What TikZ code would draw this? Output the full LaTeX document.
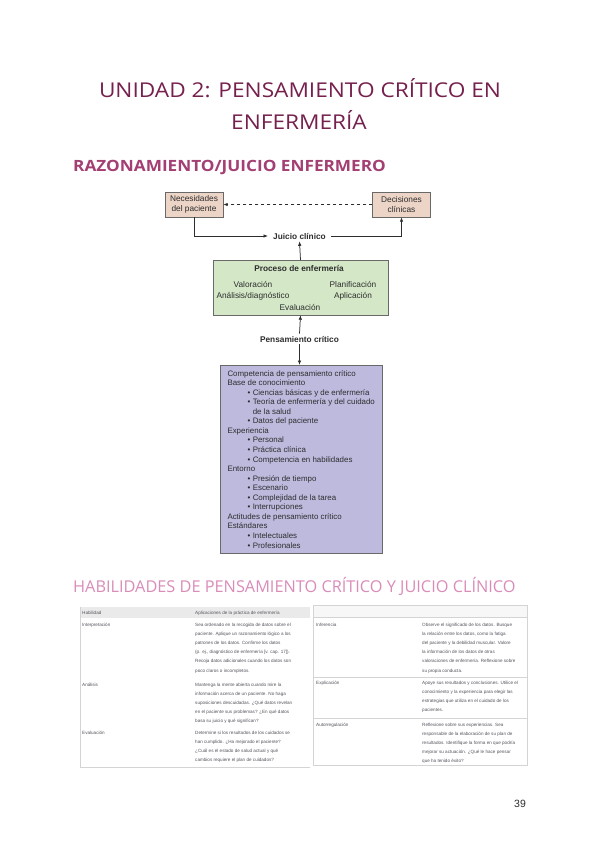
\documentclass[tikz,border=0pt]{standalone}
\usepackage{fontspec}
\setmainfont{Liberation Sans}
\newfontfamily\titlefont{Open Sans}
\newfontfamily\titlewide[FakeStretch=1.11]{Open Sans}
\usetikzlibrary{positioning,arrows.meta}

\definecolor{titlePlum}{RGB}{118,32,78}
\definecolor{headPink}{RGB}{163,63,115}
\definecolor{lightPink}{RGB}{218,140,185}
\definecolor{needFill}{RGB}{236,212,198}
\definecolor{procFill}{RGB}{212,232,200}
\definecolor{compFill}{RGB}{190,186,222}
\definecolor{boxLine}{RGB}{105,105,105}
\definecolor{inkGray}{RGB}{45,45,45}
\definecolor{cellInk}{RGB}{85,85,95}
\definecolor{tabHead}{RGB}{234,234,234}
\definecolor{tabStrip}{RGB}{247,247,247}
\definecolor{tabLine}{RGB}{212,212,212}

\newcommand{\diagfont}{\fontsize{8.3}{9.5}\selectfont}
\newcommand{\compfont}{\fontsize{7.9}{9.55}\selectfont}
\newcommand{\cellfont}{\fontsize{4.6}{9.2}\selectfont}
\newcommand{\compItem}{\hspace*{20pt}\textbullet\hspace{2.5pt}}
\newcommand{\compCont}{\hspace*{25.3pt}}

\begin{document}
\begin{tikzpicture}[x=1pt, y=-1pt,
    >={Latex[length=4.5pt,width=3.5pt]},
    titletext/.style={font=\titlewide\fontsize{20.4}{24}\selectfont, text=titlePlum, inner sep=0pt},
    needbox/.style={rectangle, draw=boxLine, fill=needFill, minimum width=58pt, minimum height=25pt,
        align=center, inner sep=1pt, font=\diagfont, text=inkGray},
    procbox/.style={rectangle, draw=boxLine, fill=procFill, minimum width=175pt, minimum height=55pt},
    compbox/.style={rectangle, draw=boxLine, fill=compFill, minimum width=162pt, minimum height=188pt,
        align=left, inner xsep=6pt, font=\compfont, text=inkGray},
    tag/.style={font=\diagfont\bfseries, text=inkGray, inner sep=2pt},
    phase/.style={font=\diagfont, text=inkGray, inner sep=0pt},
    link/.style={draw=inkGray, line width=0.75pt},
    cell/.style={anchor=north west, align=left, inner sep=0pt, font=\cellfont, text=cellInk}
]
\useasboundingbox (0,0) rectangle (600,848);
\fill[white] (0,0) rectangle (600,848);

% Titles
\node[titletext] (unitTitle) at (300,88) {UNIDAD 2: PENSAMIENTO CRÍTICO EN};
\node[titletext] (unitTitleB) at (299,120) {ENFERMERÍA};
\node[anchor=west, inner sep=0pt, text=headPink, font=\titlewide\bfseries\fontsize{15.5}{18}\selectfont]
    (reasonHead) at (73,167.5) {RAZONAMIENTO/JUICIO ENFERMERO};

% Judgement loop
\node[needbox] (needs) at (194,204.5) {Necesidades\\del paciente};
\node[needbox] (decis) at (401.5,204.5) {Decisiones\\clínicas};
\node[tag] (judge) at (299.5,236) {Juicio clínico};

\draw[link, ->, dashed] (decis.west) -- (needs.east);
\draw[link, ->] (needs.south) |- ([xshift=-3pt]judge.west);
\draw[link, ->] ([xshift=3pt]judge.east) -| (decis.south);

% Nursing process
\node[procbox] (proc) at (300.5,287.5) {};
\node[tag] (procTitle) at (299,268) {Proceso de enfermería};
\node[phase] (valor) at (253,284) {Valoración};
\node[phase] (analys) at (253,296) {Análisis/diagnóstico};
\node[phase] (plann) at (353,284) {Planificación};
\node[phase] (applic) at (353,296) {Aplicación};
\node[phase] (evalu) at (300,307) {Evaluación};

\draw[link, ->] (proc.north) -- (judge.south);

% Critical thinking
\node[tag] (thinking) at (299.5,339) {Pensamiento crítico};
\draw[link, ->] (thinking.north) -- (proc.south);

\node[compbox, anchor=north west] (comp) at (220,365) {%
    Competencia de pensamiento crítico\\
    Base de conocimiento\\
    \compItem Ciencias básicas y de enfermería\\
    \compItem Teoría de enfermería y del cuidado\\
    \compCont de la salud\\
    \compItem Datos del paciente\\
    Experiencia\\
    \compItem Personal\\
    \compItem Práctica clínica\\
    \compItem Competencia en habilidades\\
    Entorno\\
    \compItem Presión de tiempo\\
    \compItem Escenario\\
    \compItem Complejidad de la tarea\\
    \compItem Interrupciones\\
    Actitudes de pensamiento crítico\\
    Estándares\\
    \compItem Intelectuales\\
    \compItem Profesionales};
\draw[link, ->] (thinking.south) -- (thinking.south |- comp.north);

% Skills table
\node[anchor=west, inner sep=0pt, text=lightPink, font=\titlefont\fontsize{16.3}{19}\selectfont]
    (skillHead) at (73,586) {HABILIDADES DE PENSAMIENTO CRÍTICO Y JUICIO CLÍNICO};

\fill[tabHead] (80,607) rectangle (310,618);
\draw[tabLine] (80,607) -- (80,767) -- (310,767);
\fill[tabStrip] (313,605) rectangle (527,617);
\draw[tabLine] (313,605) rectangle (527,765);
\draw[tabLine] (313,617) -- (527,617);
\draw[tabLine] (313,677) -- (527,677);
\draw[tabLine] (313,718) -- (527,718);

\node[cell] (hSkill) at (82,610.5) {Habilidad};
\node[cell] (hUse) at (195,610.5) {Aplicaciones de la práctica de enfermería};

\node[cell] (sInterp) at (82,622.5) {Interpretación};
\node[cell] (tInterp) at (195,622.5) {Sea ordenado en la recogida de datos sobre el\\
    paciente. Aplique un razonamiento lógico a los\\
    patrones de los datos. Confirme los datos\\
    (p. ej., diagnóstico de enfermería [v. cap. 17]).\\
    Recoja datos adicionales cuando los datos son\\
    poco claros o incompletos.};

\node[cell] (sAnal) at (82,682.5) {Análisis};
\node[cell] (tAnal) at (195,682.5) {Mantenga la mente abierta cuando mire la\\
    información acerca de un paciente. No haga\\
    suposiciones descuidadas. ¿Qué datos revelan\\
    en el paciente sus problemas? ¿En qué datos\\
    basa su juicio y qué significan?};

\node[cell] (sEval) at (82,730.5) {Evaluación};
\node[cell] (tEval) at (195,730.5) {Determine si los resultados de los cuidados se\\
    han cumplido. ¿Ha mejorado el paciente?\\
    ¿Cuál es el estado de salud actual y qué\\
    cambios requiere el plan de cuidados?};

\node[cell] (sInfer) at (316,622.5) {Inferencia};
\node[cell] (tInfer) at (422,622.5) {Observe el significado de los datos. Busque\\
    la relación entre los datos, como la fatiga\\
    del paciente y la debilidad muscular. Valore\\
    la información de los datos de otras\\
    valoraciones de enfermería. Reflexione sobre\\
    su propia conducta.};

\node[cell] (sExpl) at (316,680.5) {Explicación};
\node[cell] (tExpl) at (422,680.5) {Apoye sus resultados y conclusiones. Utilice el\\
    conocimiento y la experiencia para elegir las\\
    estrategias que utiliza en el cuidado de los\\
    pacientes.};

\node[cell] (sSelf) at (316,722.5) {Autorregulación};
\node[cell] (tSelf) at (422,722.5) {Reflexione sobre sus experiencias. Sea\\
    responsable de la elaboración de su plan de\\
    resultados. Identifique la forma en que podría\\
    mejorar su actuación. ¿Qué le hace pensar\\
    que ha tenido éxito?};

% Page number
\node[inner sep=0pt, text=inkGray, font=\fontsize{10.5}{12}\selectfont] (pageNum) at (520,804) {39};
\end{tikzpicture}
\end{document}
